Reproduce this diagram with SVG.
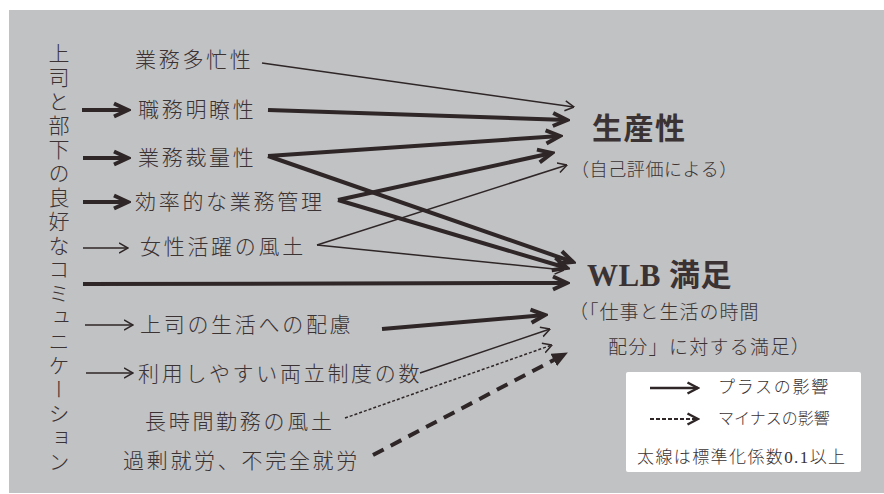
<svg xmlns="http://www.w3.org/2000/svg" width="884" height="494" viewBox="0 0 884 494">
<style>
text{font-family:"Liberation Serif","Noto Sans CJK JP",serif;fill:#3a3233;dominant-baseline:central;font-weight:300}
.lb{font-size:21px;letter-spacing:2.7px}
.tg{font-size:30px;font-weight:bold;letter-spacing:1.5px}
.sub{font-size:19px;letter-spacing:1px}
.lg{font-size:16px}
.c line{stroke:#2e2627;fill:none}
.tn{stroke-width:1.5}
.tk{stroke-width:4}
</style>
<defs>
<marker id="ah" viewBox="0 0 10 12" markerWidth="10" markerHeight="12" refX="9.5" refY="6" orient="auto" markerUnits="userSpaceOnUse">
<path d="M0.5,1 L9.5,6 L0.5,11" fill="none" stroke="#2e2627" stroke-width="1.5"/>
</marker>
<marker id="ahb" viewBox="0 0 20 18" markerWidth="20" markerHeight="18" refX="17" refY="9" orient="auto" markerUnits="userSpaceOnUse">
<path d="M3,2.5 L17,9 L3,15.5" fill="none" stroke="#2e2627" stroke-width="4"/>
</marker>
<marker id="ahf" viewBox="0 0 16 14" markerWidth="16" markerHeight="14" refX="15" refY="7" orient="auto" markerUnits="userSpaceOnUse">
<path d="M0,0 L16,7 L0,14 z" fill="#2e2627"/>
</marker>
<marker id="ahl" viewBox="0 0 14 14" markerWidth="14" markerHeight="14" refX="12.5" refY="7" orient="auto" markerUnits="userSpaceOnUse">
<path d="M2,1.5 L12.5,7 L2,12.5" fill="none" stroke="#2e2627" stroke-width="2.5"/>
</marker>
</defs>
<rect x="9" y="10" width="875" height="483" fill="#c1c2c4"/>

<g id="source">
<text x="57" y="43" style="writing-mode:vertical-rl;font-size:21px;letter-spacing:3px;dominant-baseline:auto">上司と部下の良好なコミュニケーション</text>
</g>

<g id="n1"><text class="lb" x="135" y="60">業務多忙性</text></g>
<g id="n2"><text class="lb" x="138" y="110">職務明瞭性</text></g>
<g id="n3"><text class="lb" x="138" y="158">業務裁量性</text></g>
<g id="n4"><text class="lb" x="135" y="202">効率的な業務管理</text></g>
<g id="n5"><text class="lb" x="140" y="247">女性活躍の風土</text></g>
<g id="n6"><text class="lb" x="140" y="325">上司の生活への配慮</text></g>
<g id="n7"><text class="lb" x="138" y="374">利用しやすい両立制度の数</text></g>
<g id="n8"><text class="lb" x="145" y="422">長時間勤務の風土</text></g>
<g id="n9"><text class="lb" x="123" y="461">過剰就労、不完全就労</text></g>

<g id="productivity">
<text class="tg" x="592" y="128">生産性</text>
<text x="571" y="170" style="font-size:18px;letter-spacing:0.6px">（自己評価による）</text>
</g>

<g id="wlb">
<text class="tg" x="587" y="275" style="font-size:31px;letter-spacing:0.5px">WLB 満足</text>
<text class="sub" x="569" y="312">（「仕事と生活の時間</text>
<text class="sub" x="608" y="347" style="letter-spacing:1.3px">配分」に対する満足）</text>
</g>

<g class="c" id="connectors">
<line class="tk" x1="82" y1="110" x2="128" y2="110" marker-end="url(#ahb)"/>
<line class="tk" x1="83" y1="158" x2="128" y2="158" marker-end="url(#ahb)"/>
<line class="tk" x1="83" y1="202" x2="128" y2="202" marker-end="url(#ahb)"/>
<line class="tn" x1="83" y1="248" x2="128" y2="248" marker-end="url(#ah)"/>
<line class="tk" x1="83" y1="284" x2="567" y2="283" marker-end="url(#ahb)"/>
<line class="tn" x1="85" y1="325" x2="133" y2="325" marker-end="url(#ah)"/>
<line class="tn" x1="86" y1="373" x2="133" y2="373" marker-end="url(#ah)"/>

<line class="tn" x1="262" y1="63" x2="574" y2="107" marker-end="url(#ah)"/>
<line class="tk" x1="268" y1="110" x2="567" y2="120" marker-end="url(#ahb)"/>
<line class="tk" x1="268" y1="156" x2="560" y2="136" marker-end="url(#ahb)"/>
<line class="tk" x1="338" y1="200" x2="552" y2="153" marker-end="url(#ahb)"/>
<line class="tn" x1="317" y1="245" x2="567" y2="165" marker-end="url(#ah)"/>
<line class="tk" x1="268" y1="156" x2="573" y2="262" marker-end="url(#ahb)"/>
<line class="tk" x1="338" y1="200" x2="567" y2="268" marker-end="url(#ahb)"/>
<line class="tn" x1="317" y1="245" x2="564" y2="270" marker-end="url(#ah)"/>
<line class="tk" x1="382" y1="329" x2="545" y2="315" marker-end="url(#ahb)"/>
<line class="tn" x1="420" y1="373" x2="550" y2="329" marker-end="url(#ah)"/>
<line class="tn" x1="345" y1="418" x2="552" y2="345" stroke-dasharray="3,2" marker-end="url(#ah)"/>
<line class="tk" x1="373" y1="455" x2="567" y2="353" stroke-dasharray="12,8" marker-end="url(#ahf)"/>
</g>

<g id="legend">
<rect x="626" y="372" width="235" height="100" rx="2" fill="#ffffff"/>
<g class="c">
<line x1="650" y1="388" x2="698" y2="388" stroke-width="2.5" marker-end="url(#ahl)"/>
<line x1="650" y1="419" x2="698" y2="419" stroke-width="2" stroke-dasharray="4,2" marker-end="url(#ahl)"/>
</g>
<text class="lg" x="718" y="387" style="font-size:17px;letter-spacing:1.7px">プラスの影響</text>
<text class="lg" x="718" y="418">マイナスの影響</text>
<text x="637" y="457" style="font-size:17px;letter-spacing:1.4px">太線は標準化係数0.1以上</text>
</g>
</svg>
